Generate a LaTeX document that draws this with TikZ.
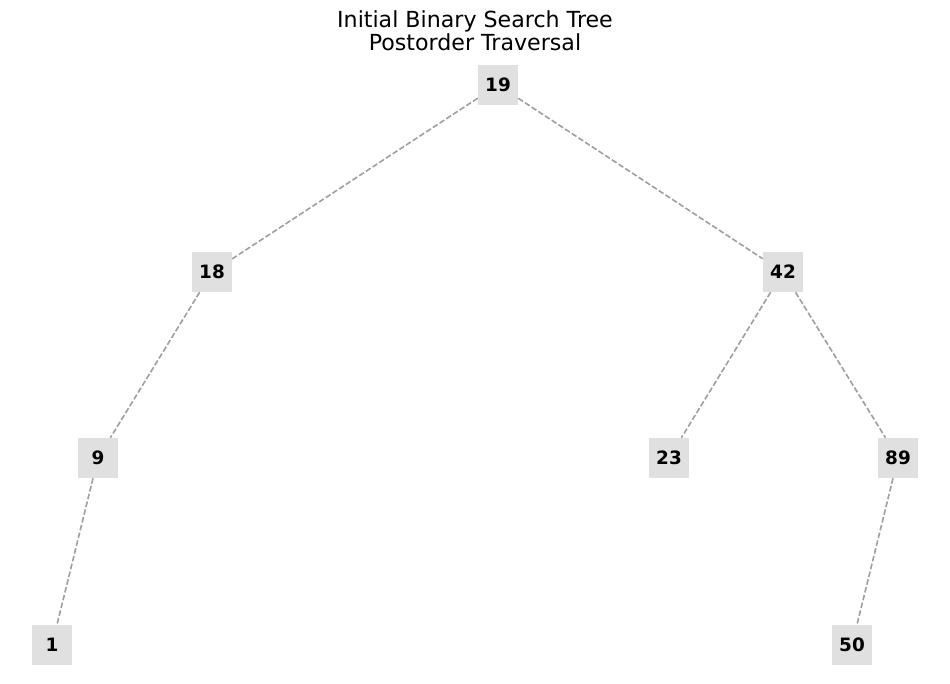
\documentclass[tikz,border=0pt]{standalone}
\usepackage{fontspec}
\setmainfont{DejaVu Sans}
\begin{document}
\begin{tikzpicture}[x=0.75pt,y=-0.75pt,
  tn/.style={fill={rgb,255:red,224;green,224;blue,224}, minimum width=30pt, minimum height=30pt, inner sep=0pt, font=\fontsize{13.8pt}{16pt}\selectfont\bfseries},
  edge/.style={draw={rgb,255:red,158;green,158;blue,158}, line width=1.2pt, dash pattern=on 4.2pt off 1.8pt}]
\useasboundingbox (0,0) rectangle (950,683);
\node[font=\fontsize{16.6pt}{17.25pt}\selectfont, align=center] (title) at (475,31) {Initial Binary Search Tree\\Postorder Traversal};
\node[tn] (n19) at (498,85) {19};
\node[tn] (n18) at (212,272) {18};
\node[tn] (n42) at (783,272) {42};
\node[tn] (n9) at (98,458) {9};
\node[tn] (n23) at (669,458) {23};
\node[tn] (n89) at (898,458) {89};
\node[tn] (n1) at (52,645) {1};
\node[tn] (n50) at (852,645) {50};
\draw[edge] (n19) -- (n18);
\draw[edge] (n19) -- (n42);
\draw[edge] (n18) -- (n9);
\draw[edge] (n9) -- (n1);
\draw[edge] (n42) -- (n23);
\draw[edge] (n42) -- (n89);
\draw[edge] (n89) -- (n50);
\end{tikzpicture}
\end{document}
